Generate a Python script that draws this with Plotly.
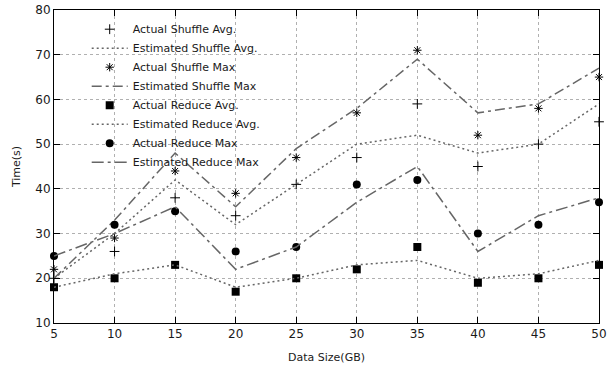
import plotly.graph_objects as go

sizes = [5, 10, 15, 20, 25, 30, 35, 40, 45, 50]

actual_shuffle_avg = [20, 26, 38, 34, 41, 47, 59, 45, 50, 55]
est_shuffle_avg = [20, 30, 42, 32, 41, 50, 52, 48, 50, 59]
actual_shuffle_max = [22, 29, 44, 39, 47, 57, 71, 52, 58, 65]
est_shuffle_max = [20, 33, 48, 36, 49, 58, 69, 57, 59, 67]
actual_reduce_avg = [18, 20, 23, 17, 20, 22, 27, 19, 20, 23]
est_reduce_avg = [18, 21, 23, 18, 20, 23, 24, 20, 21, 24]
actual_reduce_max = [25, 32, 35, 26, 27, 41, 42, 30, 32, 37]
est_reduce_max = [25, 30, 36, 22, 27, 37, 45, 26, 34, 38]

LINE = "#666666"
FONT = "DejaVu Sans"
TXT = "#1a1a1a"

fig = go.Figure()

def pts(name, y, symbol, size, filled=True):
    fig.add_trace(go.Scatter(
        x=sizes, y=y, name=name, mode="markers", cliponaxis=False,
        marker=dict(symbol=symbol, size=size, color="black",
                    line=dict(color="black", width=1 if not filled else 0)),
    ))

def line(name, y, dash):
    fig.add_trace(go.Scatter(
        x=sizes, y=y, name=name, mode="lines", cliponaxis=False,
        line=dict(color=LINE, width=1.5, dash=dash),
    ))

pts("Actual Shuffle Avg.", actual_shuffle_avg, "cross-thin", 7, filled=False)
line("Estimated Shuffle Avg.", est_shuffle_avg, "2px,3px")
pts("Actual Shuffle Max", actual_shuffle_max, "asterisk", 7, filled=False)
line("Estimated Shuffle Max", est_shuffle_max, "10px,4px,3px,4px")
pts("Actual Reduce Avg.", actual_reduce_avg, "square", 8)
line("Estimated Reduce Avg.", est_reduce_avg, "2px,3px")
pts("Actual Reduce Max", actual_reduce_max, "circle", 8)
line("Estimated Reduce Max", est_reduce_max, "12px,4px,3px,4px")

axis_common = dict(
    showline=True, linecolor="black", linewidth=1, mirror="ticks",
    ticks="inside", ticklen=6, tickcolor="black",
    showgrid=True, gridcolor="#b0b0b0", griddash="dot", gridwidth=1,
    zeroline=False, tickfont=dict(family=FONT, size=12, color=TXT),
    ticklabeloverflow="allow",
)

fig.update_layout(
    width=610, height=373,
    margin=dict(l=54, r=3, t=9, b=50),
    paper_bgcolor="white", plot_bgcolor="white",
    font=dict(family=FONT, size=11, color=TXT),
    showlegend=True,
    legend=dict(x=0.06, y=0.985, xanchor="left", yanchor="top",
                bgcolor="rgba(0,0,0,0)", font=dict(family=FONT, size=11, color=TXT),
                itemwidth=36, tracegroupgap=0),
    xaxis=dict(range=[5, 50], tickvals=sizes,
               title=dict(text="Data Size(GB)", font=dict(family=FONT, size=11, color=TXT), standoff=12),
               **axis_common),
    yaxis=dict(range=[10, 80], dtick=10,
               title=dict(text="Time(s)", font=dict(family=FONT, size=11, color=TXT), standoff=12),
               **axis_common),
)

fig.write_html("out.html")
